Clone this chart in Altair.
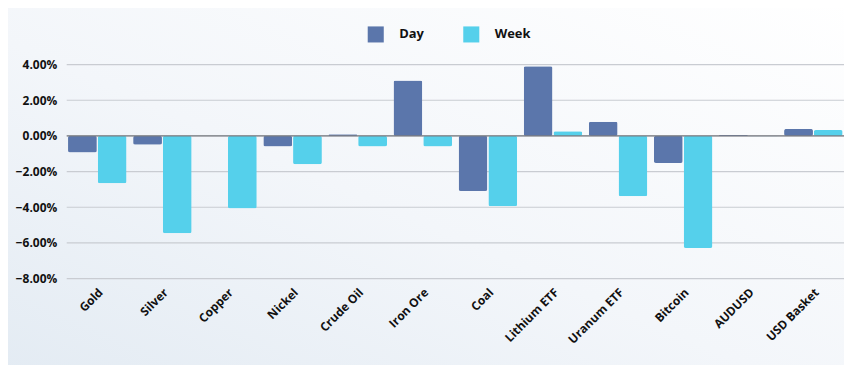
import altair as alt
import pandas as pd

categories = ["Gold", "Silver", "Copper", "Nickel", "Crude Oil", "Iron Ore", "Coal",
              "Lithium ETF", "Uranum ETF", "Bitcoin", "AUDUSD", "USD Basket"]
day = [-0.93, -0.50, 0.01, -0.59, 0.10, 3.11, -3.09, 3.90, 0.80, -1.52, 0.05, 0.39]
week = [-2.65, -5.46, -4.07, -1.59, -0.59, -0.59, -3.94, 0.26, -3.39, -6.28, -0.02, 0.33]
series = ["Day", "Week"]
colors = ["#5b76ab", "#55d0eb"]
y_ticks = [-8, -6, -4, -2, 0, 2, 4]

rows = []
for c, d, w in zip(categories, day, week):
    rows.append({"category": c, "series": "Day", "value": d})
    rows.append({"category": c, "series": "Week", "value": w})
df = pd.DataFrame(rows)

FONT = "Open Sans"
yscale = alt.Scale(domain=[-8, 4], nice=False)
yaxis = alt.Axis(title=None, values=y_ticks, labelOverlap=False, grid=False, zindex=1,
                 labelExpr="format(datum.value, '.2f') + '%'",
                 domain=False, ticks=False,
                 labelFont=FONT, labelFontWeight="bold", labelFontSize=12,
                 labelColor="#111", labelPadding=10)

bg = alt.Chart(pd.DataFrame({"a": [0]})).mark_rect(
    clip=False,
    color={"gradient": "linear", "x1": 0, "y1": 1, "x2": 1, "y2": 0,
           "stops": [{"offset": 0, "color": "#e3ebf3"},
                     {"offset": 0.45, "color": "#f3f6fa"},
                     {"offset": 1, "color": "#ffffff"}]},
).encode(x=alt.value(-67), x2=alt.value(790), y=alt.value(-64), y2=alt.value(310))

grid = alt.Chart(pd.DataFrame({"t": y_ticks})).mark_rule(color="#c9ccd2", strokeWidth=1.2).encode(
    y=alt.Y("t:Q", scale=yscale, axis=yaxis)
)

bars = alt.Chart(df).mark_bar(cornerRadius=2).encode(
    x=alt.X("category:N", sort=categories,
            scale=alt.Scale(paddingInner=0.1, paddingOuter=0.02),
            axis=alt.Axis(title=None, labelAngle=-45, domain=False, ticks=False, grid=False,
                          zindex=1,
                          labelFont=FONT, labelFontWeight="bold", labelFontSize=12,
                          labelColor="#111", labelPadding=8)),
    xOffset=alt.XOffset("series:N", sort=series, scale=alt.Scale(paddingInner=0.03)),
    y=alt.Y("value:Q", scale=yscale, axis=yaxis),
    color=alt.Color("series:N", sort=series,
                    scale=alt.Scale(domain=series, range=colors),
                    legend=alt.Legend(title=None, orient="none", direction="horizontal",
                                      legendX=302, legendY=-39, symbolType="square",
                                      symbolSize=260, symbolStrokeWidth=0,
                                      labelFont=FONT, labelFontWeight="bold",
                                      labelFontSize=13, labelColor="#111",
                                      labelOffset=15, columnPadding=39)),
)

zero = alt.Chart(pd.DataFrame({"z": [0]})).mark_rule(color="#7a7d82", strokeWidth=1.3).encode(
    y=alt.Y("z:Q", scale=yscale, axis=yaxis)
)

chart = alt.layer(bg, grid, bars, zero).resolve_axis(y="shared").properties(
    width=781, height=215,
    autosize=alt.AutoSizeParams(type="none"),
    padding={"left": 59, "top": 56, "right": 0, "bottom": 86},
    background="#ffffff",
).configure_view(stroke=None)

chart.save("out.html", embed_options={"renderer": "svg", "actions": False})
